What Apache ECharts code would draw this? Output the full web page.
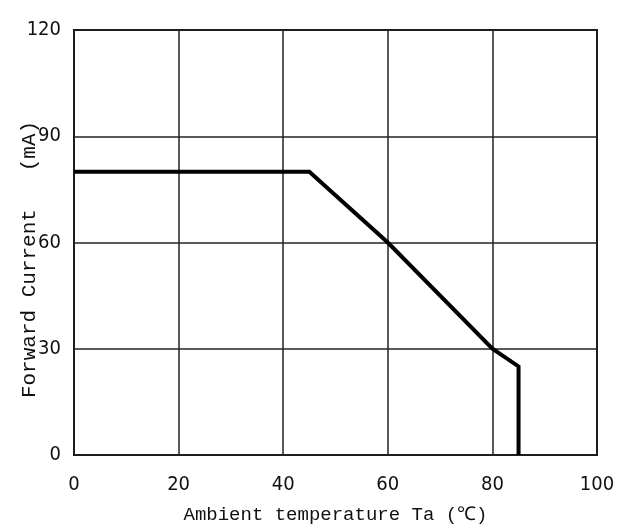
<!DOCTYPE html>
<html>
<head>
<meta charset="utf-8">
<script src="https://cdn.jsdelivr.net/npm/echarts@6/dist/echarts.min.js"></script>
<style>
  html, body { margin: 0; padding: 0; background: #fff; }
  #main { width: 621px; height: 532px; }
</style>
</head>
<body>
<div id="main"></div>
<script>
// derating curve: ambient temperature vs forward current
let temps = [0, 45, 60, 80, 85, 85]
let currents = [80, 80, 60, 30, 25, 0]

let xTicks = [0, 20, 40, 60, 80, 100]
let yTicks = [0, 30, 60, 90, 120]

let pts = temps.map((t, i) => [t, currents[i]])

var myChart = echarts.init(document.getElementById('main'))

var labelFont = 'Liberation Sans Narrow, DejaVu Sans Condensed, sans-serif'
var titleFont = 'Liberation Mono, DejaVu Sans Mono, monospace'

var option = {
  animation: false,
  backgroundColor: '#fff',
  grid: {
    left: 74, right: 24, top: 30, bottom: 77,
    containLabel: false, outerBoundsMode: 'none',
    show: true, borderColor: '#111', borderWidth: 2
  },
  xAxis: {
    type: 'value',
    min: xTicks[0],
    max: xTicks[xTicks.length - 1],
    interval: 20,
    name: 'Ambient temperature Ta (℃)',
    nameLocation: 'middle',
    nameGap: 50,
    nameMoveOverlap: false,
    nameTextStyle: { fontFamily: titleFont, fontSize: 19, color: '#111' },
    axisLine: { show: false },
    axisTick: { show: false },
    axisLabel: { fontFamily: labelFont, fontSize: 20, color: '#111', margin: 20 },
    splitLine: { lineStyle: { color: '#222', width: 1.5 } }
  },
  yAxis: {
    type: 'value',
    min: yTicks[0],
    max: yTicks[yTicks.length - 1],
    interval: 30,
    name: 'Forward Current   (mA)',
    nameLocation: 'middle',
    nameGap: 34,
    nameMoveOverlap: false,
    nameTextStyle: { fontFamily: titleFont, fontSize: 21, color: '#111', padding: [0, 34, 0, 0] },
    axisLine: { show: false },
    axisTick: { show: false },
    axisLabel: { fontFamily: labelFont, fontSize: 20, color: '#111', margin: 13 },
    splitLine: { lineStyle: { color: '#222', width: 1.5 } }
  },
  series: [{
    type: 'line',
    data: pts,
    symbol: 'none',
    lineStyle: { color: '#000', width: 4, join: 'miter' }
  }]
}

myChart.setOption(option)
</script>
</body>
</html>
